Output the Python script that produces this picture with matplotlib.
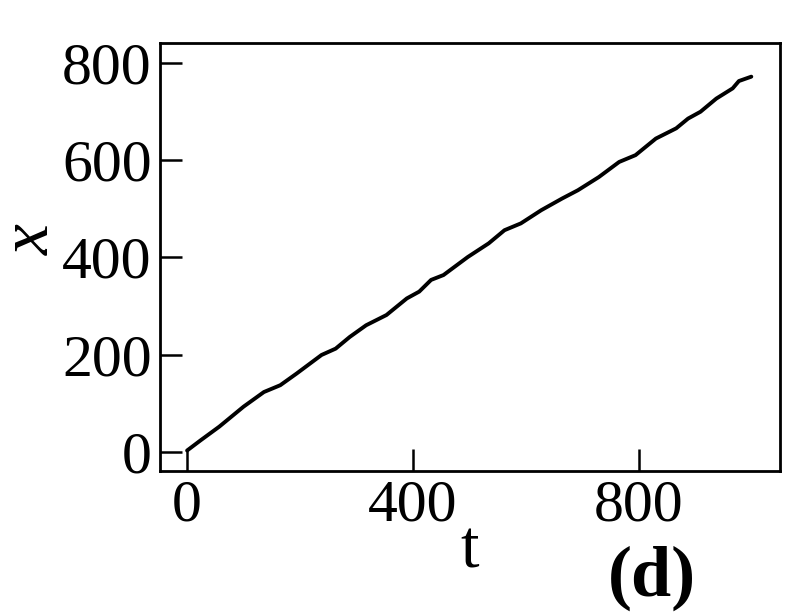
import matplotlib
matplotlib.use("Agg")
import matplotlib.pyplot as plt

# trajectory
t = [0, 24, 57, 100, 136, 165, 194, 238, 263, 288, 317, 353, 389, 411, 432,
     454, 497, 534, 562, 591, 627, 664, 692, 729, 765, 794, 830, 866, 887,
     909, 937, 966, 977, 999]
x = [4, 25, 53, 94, 124, 138, 162, 200, 213, 237, 261, 282, 316, 330, 354,
     364, 401, 429, 456, 470, 497, 521, 538, 565, 596, 610, 644, 665, 685,
     699, 726, 747, 762, 771]

xticks = [0, 400, 800]
yticks = [0, 200, 400, 600, 800]

plt.rcParams['font.family'] = ['Liberation Serif', 'DejaVu Serif']

fig = plt.figure(figsize=(7.92, 6.12), dpi=100)
ax = fig.add_axes([0.202, 0.2304, 0.783, 0.6993])

ax.plot(t, x, color='black', lw=2.8, solid_capstyle='round', solid_joinstyle='round')

ax.set_xlim(-48, 1050)
ax.set_ylim(-38, 840)
ax.set_xticks(xticks)
ax.set_yticks(yticks)
ax.tick_params(direction='in', length=16, width=1.8, labelsize=43, pad=6,
               top=False, right=False)
for s in ax.spines.values():
    s.set_linewidth(2)

fig.text(0.593, 0.072, 't', fontsize=48, ha='center', va='baseline')
fig.text(0.823, 0.026, '(d)', fontsize=52, fontweight='bold', ha='center', va='baseline')
fig.text(0.04, 0.608, 'x', fontsize=50, fontstyle='italic', rotation=90,
         ha='center', va='center')

fig.savefig('out.png', dpi=100)
